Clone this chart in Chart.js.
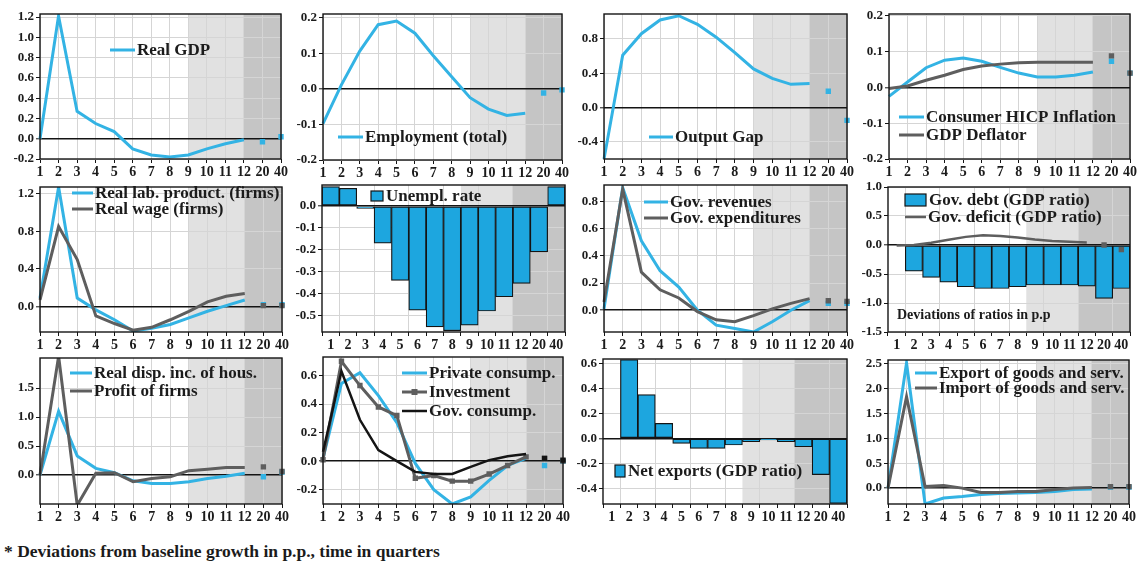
<!DOCTYPE html>
<html>
<head>
<meta charset="utf-8">
<script src="https://cdn.jsdelivr.net/npm/chart.js@4.4.1/dist/chart.umd.min.js"></script>
<style>
  html, body { margin: 0; padding: 0; background: #fff; }
  body { width: 1137px; height: 563px; position: relative; overflow: hidden; }
  canvas { position: absolute; }
  #note { position: absolute; left: 4px; top: 541px; font: bold 17.5px "Liberation Serif", serif; color: #1b1b1b; white-space: nowrap; line-height: 20px; }
</style>
</head>
<body>
<div id="note">* Deviations from baseline growth in p.p., time in quarters</div>
<script>
// Quarters after the shock (12 quarterly steps, then quarters 20 and 40)
const quarters = ['1', '2', '3', '4', '5', '6', '7', '8', '9', '10', '11', '12', '20', '40'];

// Responses, one value per quarter
const realGdp            = [0.00, 1.21, 0.27, 0.15, 0.07, -0.10, -0.16, -0.18, -0.16, -0.10, -0.05, -0.01, -0.03, 0.02];
const employment         = [-0.098, 0.011, 0.106, 0.18, 0.19, 0.156, 0.093, 0.034, -0.025, -0.057, -0.075, -0.069, -0.012, -0.003];
const outputGap          = [-0.60, 0.61, 0.86, 1.02, 1.07, 0.97, 0.82, 0.64, 0.45, 0.34, 0.27, 0.28, 0.19, -0.15];
const hicpInflation      = [-0.025, 0.015, 0.055, 0.076, 0.082, 0.073, 0.056, 0.04, 0.029, 0.029, 0.034, 0.043, 0.073, 0.04];
const gdpDeflator        = [-0.003, 0.004, 0.02, 0.034, 0.05, 0.06, 0.065, 0.069, 0.07, 0.07, 0.07, 0.07, 0.088, 0.04];
const labourProductivity = [0.09, 1.27, 0.09, -0.035, -0.14, -0.26, -0.23, -0.19, -0.12, -0.05, 0.01, 0.07, 0.02, 0.02];
const realWage           = [0.07, 0.85, 0.50, -0.10, -0.18, -0.25, -0.22, -0.14, -0.05, 0.05, 0.11, 0.14, 0.01, 0.01];
const unemploymentRate   = [0.089, 0.081, -0.011, -0.17, -0.34, -0.476, -0.553, -0.57, -0.545, -0.48, -0.415, -0.354, -0.21, 0.089];
const govRevenues        = [0.01, 0.90, 0.51, 0.29, 0.17, 0.00, -0.11, -0.135, -0.16, -0.085, 0.00, 0.07, 0.05, 0.05];
const govExpenditures    = [0.06, 0.89, 0.28, 0.15, 0.09, -0.01, -0.07, -0.085, -0.04, 0.01, 0.05, 0.085, 0.07, 0.065];
const govDebtRatio       = [0.00, -0.45, -0.56, -0.64, -0.72, -0.75, -0.75, -0.72, -0.69, -0.69, -0.69, -0.71, -0.92, -0.75];
const govDeficitRatio    = [-0.01, 0.00, 0.04, 0.09, 0.14, 0.17, 0.155, 0.13, 0.095, 0.07, 0.055, 0.045, 0.00, -0.08];
const dispIncome         = [0.00, 1.10, 0.33, 0.115, 0.04, -0.10, -0.145, -0.145, -0.115, -0.06, -0.02, 0.03, -0.03, 0.05];
const firmProfits        = [0.00, 2.05, -0.52, 0.03, 0.04, -0.115, -0.06, -0.03, 0.075, 0.10, 0.13, 0.13, 0.14, 0.06];
const privateConsumption = [0.02, 0.545, 0.62, 0.46, 0.27, -0.016, -0.20, -0.30, -0.25, -0.135, -0.03, 0.02, -0.03, 0.00];
const investment         = [0.01, 0.70, 0.53, 0.38, 0.32, -0.12, -0.10, -0.14, -0.14, -0.09, -0.03, 0.03, 0.02, 0.00];
const govConsumption     = [0.066, 0.63, 0.29, 0.077, 0.00, -0.075, -0.09, -0.09, -0.04, 0.007, 0.035, 0.05, 0.02, 0.007];
const netExportsRatio    = [0.00, 0.63, 0.35, 0.12, -0.04, -0.08, -0.08, -0.053, -0.027, -0.013, -0.027, -0.067, -0.29, -0.52];
const exportsGS          = [0.00, 2.52, -0.32, -0.20, -0.17, -0.13, -0.11, -0.10, -0.09, -0.07, -0.03, -0.02, 0.02, 0.02];
const importsGS          = [0.00, 1.84, 0.03, 0.05, 0.00, -0.09, -0.09, -0.07, -0.07, -0.03, 0.00, 0.01, 0.03, 0.03];

// Value-axis tick labels per panel
const ticksGdp          = [-0.2, 0, 0.2, 0.4, 0.6, 0.8, 1.0, 1.2];
const ticksEmployment   = [-0.2, -0.1, 0, 0.1, 0.2];
const ticksOutputGap    = [-0.4, 0, 0.4, 0.8];
const ticksInflation    = [-0.2, -0.1, 0, 0.1, 0.2];
const ticksWages        = [0, 0.4, 0.8, 1.2];
const ticksUnemployment = [-0.5, -0.4, -0.3, -0.2, -0.1, 0];
const ticksPublic       = [0, 0.2, 0.4, 0.6, 0.8];
const ticksDebt         = [-1.5, -1.0, -0.5, 0, 0.5, 1.0];
const ticksIncome       = [0, 0.5, 1.0, 1.5];
const ticksDemand       = [-0.2, 0, 0.2, 0.4, 0.6];
const ticksNetExports   = [-0.4, -0.2, 0, 0.2, 0.4, 0.6];
const ticksTrade        = [0, 0.5, 1.0, 1.5, 2.0, 2.5];

// Shaded horizons: medium term from quarter 9, long term from quarter 12
const mediumTermFrom = '9';
const longTermFrom = '12';
const firstIsolated = '20';

const LINE_BLUE = '#33b3e4';
const BAR_BLUE = '#1da6df';
const GREY = '#5e5e5e';
const INK = '#141414';
const SHADE_LIGHT = '#e1e1e1';
const SHADE_DARK = '#c5c5c5';
const GRID = '#d5d5d5';
const SERIF = '"Liberation Serif", "DejaVu Serif", serif';

const panels = [
  { rect: [40, 14, 281, 159], range: [-0.2, 1.23], yTicks: ticksGdp,
    series: [{ label: 'Real GDP', data: realGdp, color: LINE_BLUE }],
    legend: { x: 110, y: 50, sample: 25, gap: 18 } },
  { rect: [323, 14, 562, 160], range: [-0.2, 0.21], yTicks: ticksEmployment,
    series: [{ label: 'Employment (total)', data: employment, color: LINE_BLUE }],
    legend: { x: 338, y: 137, sample: 25, gap: 18 } },
  { rect: [604, 14, 847, 159], range: [-0.6, 1.09], yTicks: ticksOutputGap,
    series: [{ label: 'Output Gap', data: outputGap, color: LINE_BLUE }],
    legend: { x: 649, y: 137, sample: 24, gap: 18 } },
  { rect: [889, 14, 1130, 159], range: [-0.2, 0.205], yTicks: ticksInflation,
    series: [{ label: 'Consumer HICP Inflation', data: hicpInflation, color: LINE_BLUE, order: 2 },
             { label: 'GDP Deflator', data: gdpDeflator, color: GREY, order: 1 }],
    legend: { x: 899, y: 117, sample: 25, gap: 18 } },
  { rect: [40, 187, 282, 332], range: [-0.27, 1.27], yTicks: ticksWages,
    series: [{ label: 'Real lab. product. (firms)', data: labourProductivity, color: LINE_BLUE, order: 2 },
             { label: 'Real wage (firms)', data: realWage, color: GREY, order: 1 }],
    legend: { x: 72, y: 193, sample: 21, gap: 16 } },
  { rect: [322, 185, 565, 332], range: [-0.576, 0.096], yTicks: ticksUnemployment,
    series: [{ label: 'Unempl. rate', data: unemploymentRate, color: BAR_BLUE, bar: true }],
    legend: { x: 371, y: 196, box: [12, 10], gap: 18 } },
  { rect: [604, 185, 847, 332], range: [-0.16, 0.92], yTicks: ticksPublic,
    series: [{ label: 'Gov. revenues', data: govRevenues, color: LINE_BLUE, order: 2 },
             { label: 'Gov. expenditures', data: govExpenditures, color: GREY, order: 1 }],
    legend: { x: 644, y: 202, sample: 24, gap: 16 } },
  { rect: [888, 187, 1130, 332], range: [-1.5, 1.0], yTicks: ticksDebt,
    series: [{ label: 'Gov. debt (GDP ratio)', data: govDebtRatio, color: BAR_BLUE, bar: true, order: 2 },
             { label: 'Gov. deficit (GDP ratio)', data: govDeficitRatio, color: GREY, width: 2.5, order: 1 }],
    legend: { x: 905, y: 200, sample: 21, box: [21, 12], gap: 17 },
    caption: { text: 'Deviations of ratios in p.p', x: 897, y: 315 } },
  { rect: [40, 358, 282, 504], range: [-0.5, 2.02], yTicks: ticksIncome,
    series: [{ label: 'Real disp. inc. of hous.', data: dispIncome, color: LINE_BLUE, order: 2 },
             { label: 'Profit of firms', data: firmProfits, color: GREY, order: 1 }],
    legend: { x: 70, y: 373, sample: 22, gap: 18 } },
  { rect: [323, 357, 563, 504], range: [-0.30, 0.73], yTicks: ticksDemand,
    series: [{ label: 'Private consump.', data: privateConsumption, color: LINE_BLUE, order: 3 },
             { label: 'Investment', data: investment, color: GREY, order: 2, markers: true },
             { label: 'Gov. consump.', data: govConsumption, color: INK, width: 2.5, order: 1 }],
    legend: { x: 402, y: 373, sample: 25, gap: 19 } },
  { rect: [603, 359, 847, 504], range: [-0.525, 0.635], yTicks: ticksNetExports,
    series: [{ label: 'Net exports (GDP ratio)', data: netExportsRatio, color: BAR_BLUE, bar: true }],
    legend: { x: 615, y: 471, box: [10, 12], gap: 18 } },
  { rect: [888, 360, 1129, 504], range: [-0.32, 2.58], yTicks: ticksTrade,
    series: [{ label: 'Export of goods and serv.', data: exportsGS, color: LINE_BLUE, order: 2 },
             { label: 'Import of goods and serv.', data: importsGS, color: GREY, order: 1 }],
    legend: { x: 915, y: 373, sample: 22, gap: 15 } }
];

const PAD_L = 42, PAD_T = 10, PAD_R = 12, PAD_B = 26;
const breakIndex = quarters.indexOf(firstIsolated);

function lineDataset(s) {
  return {
    type: 'line',
    label: s.label,
    data: s.data,
    order: s.order || 0,
    borderColor: s.color,
    backgroundColor: s.color,
    borderWidth: s.width || 3,
    tension: 0,
    fill: false,
    pointStyle: 'rect',
    pointRadius: c => (s.markers || c.dataIndex >= breakIndex) ? 3.8 : 0,
    pointHoverRadius: 0,
    pointBorderWidth: 0,
    pointBackgroundColor: s.color,
    segment: { borderColor: c => (c.p1DataIndex >= breakIndex ? 'rgba(0,0,0,0)' : undefined) }
  };
}

function barDataset(s) {
  return {
    type: 'bar',
    label: s.label,
    data: s.data,
    order: s.order || 0,
    backgroundColor: s.color,
    borderColor: INK,
    borderWidth: 1.2,
    borderSkipped: false,
    barPercentage: 1,
    categoryPercentage: 1
  };
}

function buildPanel(p) {
  const [L, T, R, B] = p.rect;
  const W = R - L + PAD_L + PAD_R;
  const H = B - T + PAD_T + PAD_B;
  const ox = L - PAD_L, oy = T - PAD_T;
  const cv = document.createElement('canvas');
  cv.width = W; cv.height = H;
  cv.style.left = ox + 'px'; cv.style.top = oy + 'px';
  cv.style.width = W + 'px'; cv.style.height = H + 'px';
  document.body.appendChild(cv);

  const hasBars = p.series.some(s => s.bar);

  const shade = {
    id: 'shade',
    beforeDraw(chart) {
      const { ctx, chartArea: a, scales: { x } } = chart;
      const half = hasBars ? (x.getPixelForValue(1) - x.getPixelForValue(0)) / 2 : 0;
      const xm = x.getPixelForValue(quarters.indexOf(mediumTermFrom)) - half;
      const xl = x.getPixelForValue(quarters.indexOf(longTermFrom)) - half;
      ctx.save();
      ctx.fillStyle = SHADE_LIGHT;
      ctx.fillRect(xm, a.top, xl - xm, a.bottom - a.top);
      ctx.fillStyle = SHADE_DARK;
      ctx.fillRect(xl, a.top, a.right - xl, a.bottom - a.top);
      ctx.restore();
    }
  };

  const frame = {
    id: 'frame',
    afterDatasetsDraw(chart) {
      const { ctx, chartArea: a } = chart;
      ctx.save();
      ctx.strokeStyle = INK;
      ctx.lineWidth = 1.4;
      ctx.strokeRect(a.left, a.top, a.right - a.left, a.bottom - a.top);
      ctx.restore();
    }
  };

  const key = {
    id: 'key',
    afterDraw(chart) {
      const ctx = chart.ctx;
      const lg = p.legend;
      ctx.save();
      ctx.textBaseline = 'middle';
      ctx.textAlign = 'left';
      ctx.font = 'bold 17px ' + SERIF;
      p.series.forEach((s, i) => {
        const x = lg.x - ox;
        const y = lg.y + i * lg.gap - oy;
        let tx;
        if (s.bar) {
          const [bw, bh] = lg.box;
          ctx.fillStyle = s.color;
          ctx.fillRect(x, y - bh / 2, bw, bh);
          ctx.strokeStyle = INK;
          ctx.lineWidth = 1.2;
          ctx.strokeRect(x, y - bh / 2, bw, bh);
          tx = x + bw + 3;
        } else {
          ctx.strokeStyle = s.color;
          ctx.lineWidth = s.width || 3;
          ctx.beginPath();
          ctx.moveTo(x, y);
          ctx.lineTo(x + lg.sample, y);
          ctx.stroke();
          if (s.markers) {
            ctx.fillStyle = s.color;
            ctx.fillRect(x + lg.sample / 2 - 3, y - 3, 6, 6);
          }
          tx = x + lg.sample + 2;
        }
        ctx.fillStyle = '#1b1b1b';
        ctx.fillText(s.label, tx, y + 1);
      });
      if (p.caption) {
        ctx.font = 'bold 14px ' + SERIF;
        ctx.fillStyle = '#1b1b1b';
        ctx.fillText(p.caption.text, p.caption.x - ox, p.caption.y - oy);
      }
      ctx.restore();
    }
  };

  const datasets = p.series.map(s => (s.bar ? barDataset(s) : lineDataset(s)));

  new Chart(cv, {
    type: hasBars ? 'bar' : 'line',
    data: { labels: quarters, datasets },
    options: {
      responsive: false,
      animation: false,
      devicePixelRatio: 1,
      layout: { padding: { left: 0, top: PAD_T, right: PAD_R, bottom: 0 } },
      plugins: { legend: { display: false }, tooltip: { enabled: false } },
      scales: {
        x: {
          type: 'category',
          offset: hasBars,
          border: { display: false },
          grid: {
            offset: hasBars,
            color: c => (hasBars && c.index % 2 === 0) ? 'rgba(0,0,0,0)' : GRID,
            tickColor: INK,
            tickLength: 4,
            tickWidth: 1
          },
          ticks: {
            autoSkip: false, maxRotation: 0, minRotation: 0, padding: 1,
            color: '#1b1b1b', font: { family: SERIF, size: 14, weight: 'bold' }
          },
          afterFit: s => { s.height = PAD_B; }
        },
        y: {
          type: 'linear',
          min: p.range[0],
          max: p.range[1],
          border: { display: false },
          afterBuildTicks: s => { s.ticks = p.yTicks.map(v => ({ value: v })); },
          grid: {
            color: c => (c.tick && Math.abs(c.tick.value) < 1e-9) ? INK : GRID,
            lineWidth: c => (c.tick && Math.abs(c.tick.value) < 1e-9) ? 1.6 : 1,
            tickColor: INK,
            tickLength: 4,
            tickWidth: 1
          },
          ticks: {
            padding: 2,
            color: '#1b1b1b',
            font: { family: SERIF, size: 13, weight: 'bold' },
            callback: v => Number(v).toFixed(1)
          },
          afterFit: s => { s.width = PAD_L; }
        }
      }
    },
    plugins: [shade, frame, key]
  });
}

panels.forEach(buildPanel);
</script>
</body>
</html>
